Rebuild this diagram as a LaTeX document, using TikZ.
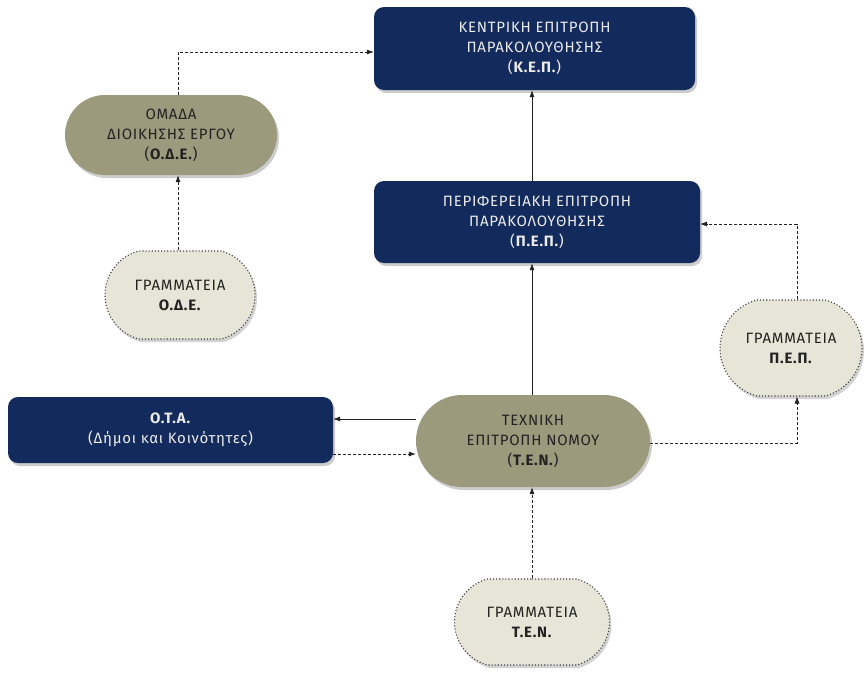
\documentclass[tikz,border=0pt]{standalone}
\usepackage{fontspec}
\setmainfont{Fira Sans}[LetterSpace=5]
\usetikzlibrary{shapes.misc,shadows,arrows.meta}
\definecolor{navy}{HTML}{132A5C}
\definecolor{olive}{HTML}{9C9A7C}
\definecolor{cream}{HTML}{E7E5D7}
\definecolor{ink}{HTML}{222222}
\begin{document}
\begin{tikzpicture}[x=1pt,y=-1pt,
  font=\fontsize{15}{20}\selectfont,
  navybox/.style={fill=navy,text=white!92!black,rounded corners=10pt,minimum width=#1,align=center,inner sep=0pt,
     drop shadow={shadow xshift=2pt,shadow yshift=-3pt,opacity=0.4}},
  olivepill/.style={fill=olive,text=ink,rounded rectangle,minimum width=#1,align=center,inner sep=0pt,
     drop shadow={shadow xshift=2pt,shadow yshift=-3pt,opacity=0.4}},
  creampill/.style={fill=cream,text=ink,rounded rectangle,rounded rectangle arc length=150,draw=black!75,dotted,line width=1.1pt,minimum width=#1,align=center,inner sep=0pt,
     drop shadow={shadow xshift=2pt,shadow yshift=-3pt,opacity=0.35,draw=none}},
  solidarr/.style={-{Latex[length=7pt,width=5pt]},line width=0.7pt,draw=ink},
  dasharr/.style={-{Latex[length=7pt,width=5pt]},line width=0.6pt,draw=ink,densely dashed},
]
\useasboundingbox (0,0) rectangle (865,673);
\fill[white] (0,0) rectangle (865,673);

\node[navybox=321pt,minimum height=83pt] (kep) at (534.5,48.5) {ΚΕΝΤΡΙΚΗ ΕΠΙΤΡΟΠΗ\\ΠΑΡΑΚΟΛΟΥΘΗΣΗΣ\\(\textbf{Κ.Ε.Π.})};
\node[olivepill=212pt,minimum height=80pt] (ode) at (171,135) {ΟΜΑΔΑ\\ΔΙΟΙΚΗΣΗΣ ΕΡΓΟΥ\\(\textbf{Ο.Δ.Ε.})};
\node[creampill=150pt,minimum height=88pt] (gode) at (180,295) {ΓΡΑΜΜΑΤΕΙΑ\\\textbf{Ο.Δ.Ε.}};
\node[navybox=326pt,minimum height=82pt] (pep) at (537,222) {ΠΕΡΙΦΕΡΕΙΑΚΗ ΕΠΙΤΡΟΠΗ\\ΠΑΡΑΚΟΛΟΥΘΗΣΗΣ\\(\textbf{Π.Ε.Π.})};
\node[creampill=142pt,minimum height=96pt] (gpep) at (791,348) {ΓΡΑΜΜΑΤΕΙΑ\\\textbf{Π.Ε.Π.}};
\node[navybox=325pt,minimum height=66pt] (ota) at (170.5,430) {\textbf{Ο.Τ.Α.}\\(Δήμοι και Κοινότητες)};
\node[olivepill=234pt,minimum height=92pt] (ten) at (533,441) {ΤΕΧΝΙΚΗ\\ΕΠΙΤΡΟΠΗ ΝΟΜΟΥ\\(\textbf{Τ.Ε.Ν.})};
\node[creampill=155pt,minimum height=86pt] (gten) at (532,622) {ΓΡΑΜΜΑΤΕΙΑ\\\textbf{Τ.Ε.Ν.}};

\draw[dasharr] (ode.north -| 178,0) |- (kep.west |- 0,52);
\draw[dasharr] (gode.north -| 178,0) -- (ode.south -| 178,0);
\draw[solidarr] (pep.north -| 532,0) -- (kep.south -| 532,0);
\draw[solidarr] (ten.north -| 532,0) -- (pep.south -| 532,0);
\draw[dasharr] (gpep.north -| 797,0) |- (pep.east |- 0,224);
\draw[dasharr] (ten.east |- 0,443) -| (gpep.south -| 797,0);
\draw[solidarr] (ten.west |- 0,419) -- (ota.east |- 0,419);
\draw[dasharr] (ota.east |- 0,454) -- (ten.west |- 0,454);
\draw[dasharr] (gten.north -| 532,0) -- (ten.south -| 532,0);
\end{tikzpicture}
\end{document}
